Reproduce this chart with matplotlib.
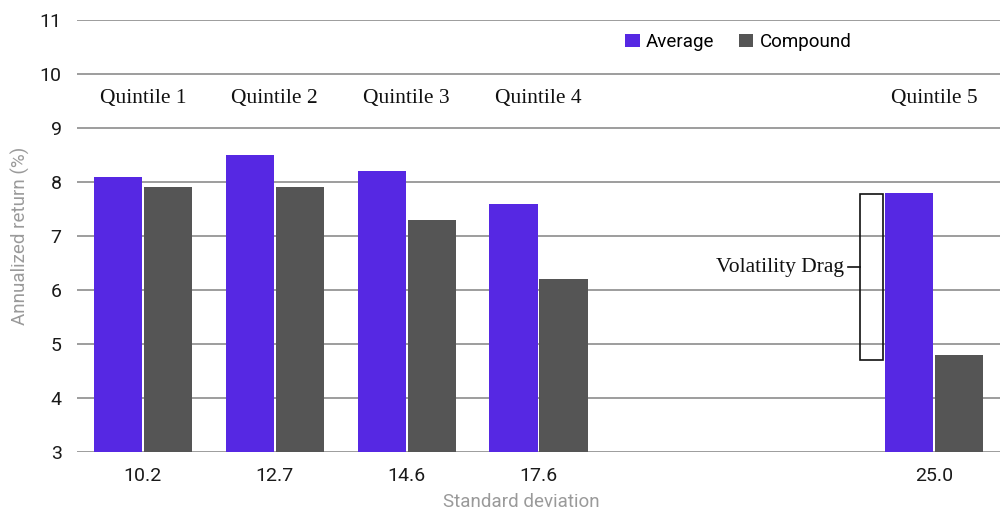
import numpy as np
import matplotlib.pyplot as plt

# data
quintiles = ['Quintile 1', 'Quintile 2', 'Quintile 3', 'Quintile 4', 'Quintile 5']
std_dev = ['10.2', '12.7', '14.6', '17.6', '25.0']
average = [8.1, 8.5, 8.2, 7.6, 7.8]
compound = [7.9, 7.9, 7.3, 6.2, 4.8]
slot = [0, 1, 2, 3, 6]   # quintile 5 sits further right

purple = '#5628E3'
grey = '#555555'
sans = ['Roboto', 'DejaVu Sans']
serif = ['Liberation Serif', 'DejaVu Serif']

fig = plt.figure(figsize=(10.03, 5.12), dpi=100)
ax = fig.add_axes([77 / 1003, 1 - 452 / 512, 923 / 1003, 432 / 512])

x = np.array(slot, dtype=float)
w = 0.365
ax.bar(x - 0.19, average, w, bottom=0, color=purple, zorder=3, label='Average')
ax.bar(x + 0.19, compound, w, bottom=0, color=grey, zorder=3, label='Compound')

ax.set_ylim(3, 11)
ax.set_xlim(-0.5, 6.5)
ax.set_yticks(range(3, 12))
ax.set_xticks(x)
ax.set_xticklabels(std_dev)
ax.tick_params(axis='both', length=0, labelsize=14, labelcolor='#1a1a1a')
ax.tick_params(axis='y', pad=11)
ax.tick_params(axis='x', pad=11)
for lab in ax.get_xticklabels() + ax.get_yticklabels():
    lab.set_family(sans)

ax.grid(axis='y', color='#8c8c8c', linewidth=1.2, zorder=0)
for s in ax.spines.values():
    s.set_visible(False)

ax.set_ylabel('Annualized return (%)', fontsize=13.5, color='#9a9a9a', family=sans)
ax.yaxis.set_label_coords(-0.051, 0.5)
ax.set_xlabel('Standard deviation', fontsize=13.5, color='#9a9a9a', family=sans)
ax.xaxis.set_label_coords(0.481, -0.095)

# quintile labels above the groups
for q, xs in zip(quintiles, slot):
    ax.text(xs, 9.55, q, ha='center', va='center', fontsize=15.5, family=serif, color='#111111')

# volatility drag bracket
q5 = slot[-1]
ax.add_patch(plt.Rectangle((q5 - 0.56, compound[-1] - 0.1), 0.17, average[-1] - compound[-1] + 0.08,
                           fill=False, edgecolor='#111111', linewidth=1.2, zorder=4))
ax.plot([q5 - 0.65, q5 - 0.56], [6.42, 6.42], color='#111111', linewidth=1.2, zorder=4)
ax.text(q5 - 0.68, 6.42, 'Volatility Drag', ha='right', va='center', fontsize=15.5,
        family=serif, color='#111111')

leg = ax.legend(loc='upper left', bbox_to_anchor=(0.58, 1.0), ncol=2, frameon=False,
                prop={'family': sans, 'size': 13.5}, handlelength=0.75, handleheight=0.75,
                handletextpad=0.35, columnspacing=1.3, borderaxespad=0.3)

fig.savefig('out.png', dpi=100, facecolor='white')
